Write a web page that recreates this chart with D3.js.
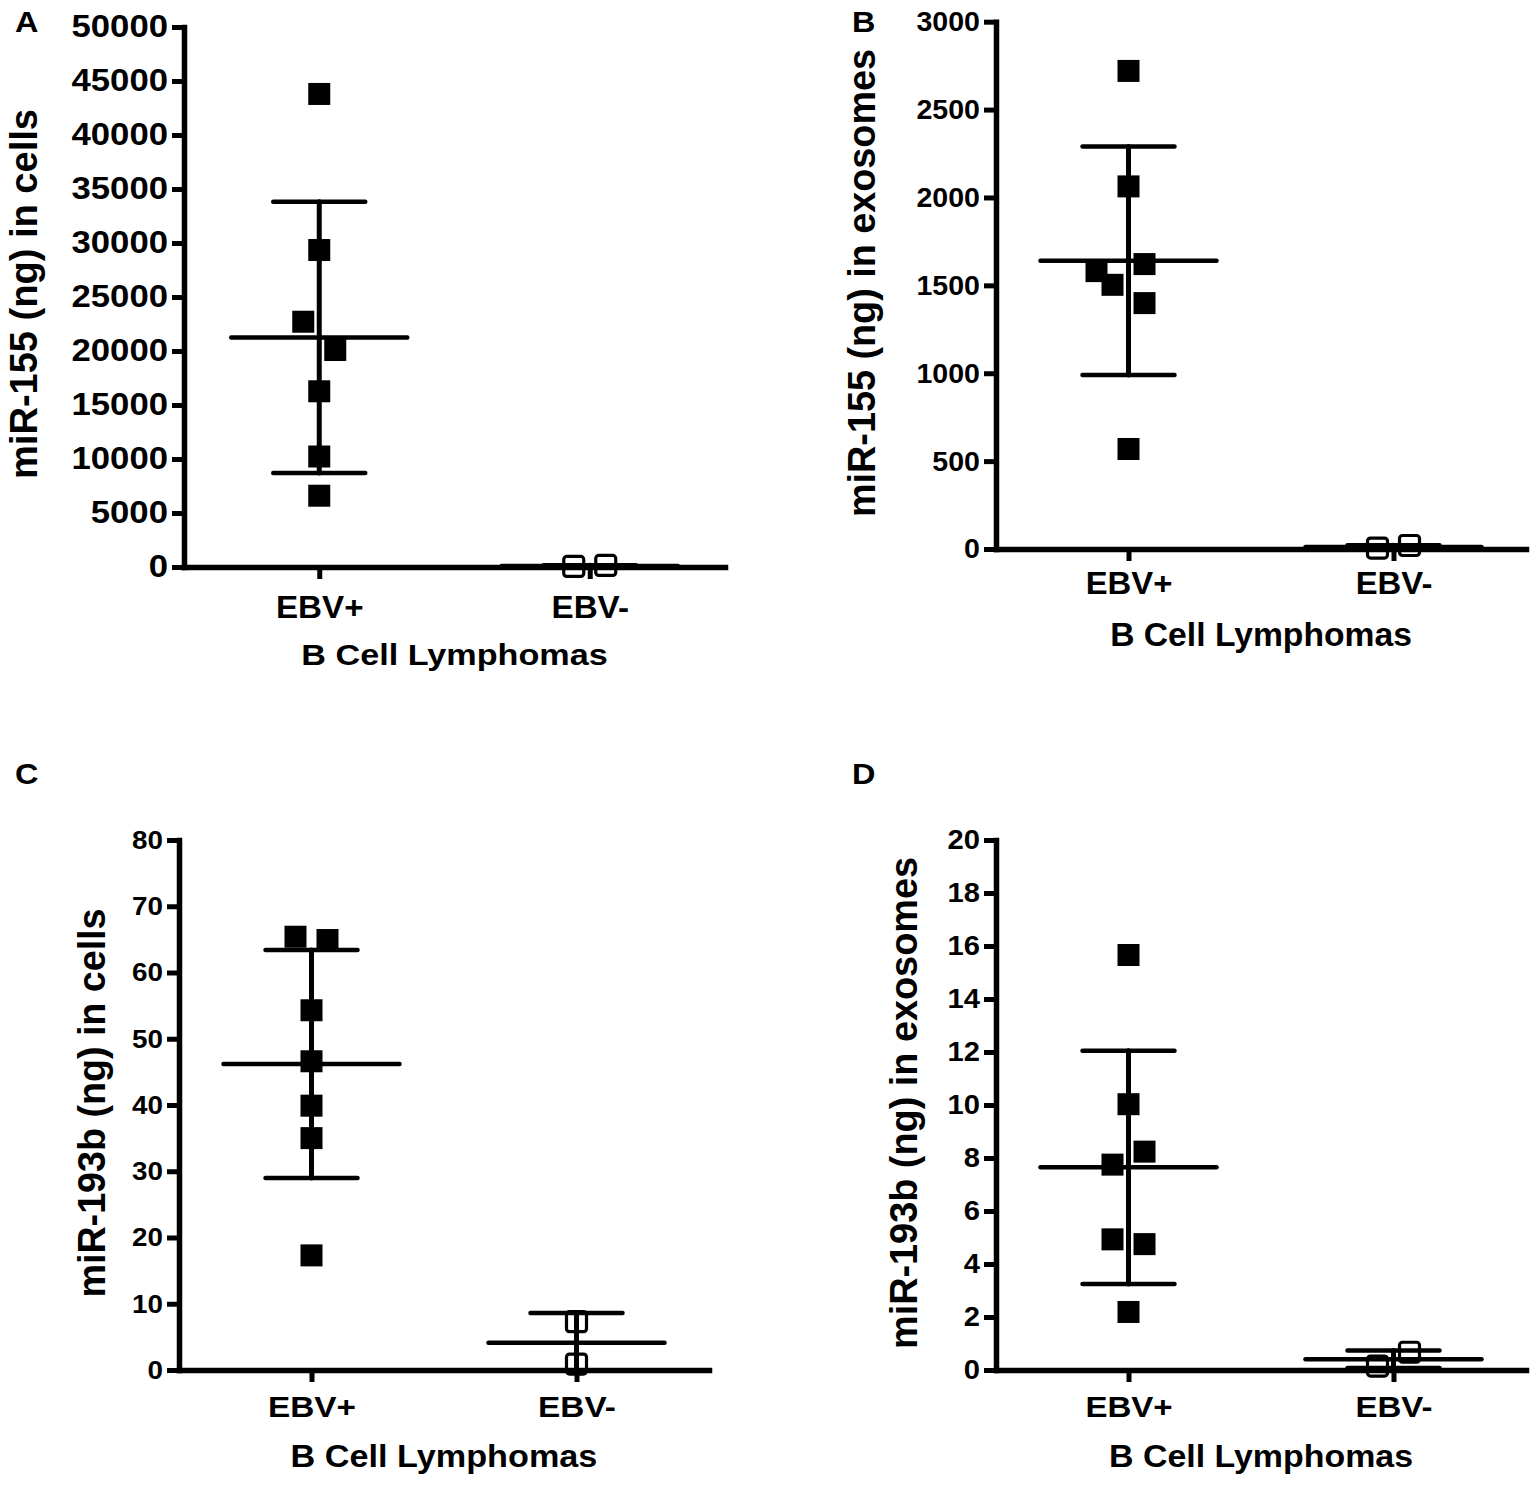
<!DOCTYPE html>
<html><head><meta charset="utf-8">
<script src="https://cdn.jsdelivr.net/npm/d3@7"></script>
<style>html,body{margin:0;padding:0;background:#fff;} svg{display:block;}</style>
</head><body>
<svg id="chart" width="1535" height="1485"></svg>
<script>
// ---------------- DATA ----------------
const categories = ["EBV+", "EBV-"];
const xAxisTitle = "B Cell Lymphomas";

// Panel A: miR-155 (ng) in cells
const cellsMir155EbvPos = [43800, 29350, 22710, 20090, 16270, 10230, 6600];
const cellsMir155EbvNeg = [50, 150];
const cellsMir155Mean = [21260, 100];
const cellsMir155Sd = [12560, 60];
const cellsMir155Ticks = [0, 5000, 10000, 15000, 20000, 25000, 30000, 35000, 40000, 45000, 50000];

// Panel B: miR-155 (ng) in exosomes
const exoMir155EbvPos = [2720, 2063, 1621, 1581, 1503, 1399, 569];
const exoMir155EbvNeg = [5, 20];
const exoMir155Mean = [1640, 12];
const exoMir155Sd = [650, 9];
const exoMir155Ticks = [0, 500, 1000, 1500, 2000, 2500, 3000];

// Panel C: miR-193b (ng) in cells
const cellsMir193bEbvPos = [65.4, 64.9, 54.3, 46.6, 39.9, 35.0, 17.3];
const cellsMir193bEbvNeg = [7.3, 0.9];
const cellsMir193bMean = [46.2, 4.1];
const cellsMir193bSd = [17.2, 4.5];
const cellsMir193bTicks = [0, 10, 20, 30, 40, 50, 60, 70, 80];

// Panel D: miR-193b (ng) in exosomes
const exoMir193bEbvPos = [15.66, 10.03, 8.24, 7.75, 4.93, 4.75, 2.19];
const exoMir193bEbvNeg = [0.15, 0.67];
const exoMir193bMean = [7.65, 0.41];
const exoMir193bSd = [4.4, 0.33];
const exoMir193bTicks = [0, 2, 4, 6, 8, 10, 12, 14, 16, 18, 20];

// ---------------- LAYOUT (positions / styles) ----------------
const FONT = "'Liberation Sans', Arial, Helvetica, sans-serif";
const JIT = 16;
const jitterA = {pos: [0, 0, -1, 1, 0, 0, 0], neg: [-1, 1]};
const jitterB = {pos: [0, 0, 1, -2, -1, 1, 0], neg: [-1, 1]};
const jitterC = {pos: [-1, 1, 0, 0, 0, 0, 0], neg: [0, 0]};
const jitterD = {pos: [0, 0, 1, -1, -1, 1, 0], neg: [-1, 1]};

const panels = [
  {letter: "A", yTitle: "miR-155 (ng) in cells",
   pos: cellsMir155EbvPos, neg: cellsMir155EbvNeg, mean: cellsMir155Mean, sd: cellsMir155Sd, ticks: cellsMir155Ticks, jitter: jitterA,
   L: {x0: 184, xEnd: 725, yTop: 27, yBottom: 567,
       yTick: [31, 1.12], xTick: [31, 1.07, 51], xTitle: [30, 1.14, 98],
       yTitleX: 37, yTitleY: 294, yTitleLen: 370, letterX: 15, letterY: 32}},
  {letter: "B", yTitle: "miR-155 (ng) in exosomes",
   pos: exoMir155EbvPos, neg: exoMir155EbvNeg, mean: exoMir155Mean, sd: exoMir155Sd, ticks: exoMir155Ticks, jitter: jitterB,
   L: {x0: 996, xEnd: 1526, yTop: 21.7, yBottom: 549,
       yTick: [28, 1.02], xTick: [31, 1.06, 45], xTitle: [34, 0.99, 97],
       yTitleX: 875, yTitleY: 283, yTitleLen: 468, letterX: 852, letterY: 32}},
  {letter: "C", yTitle: "miR-193b (ng) in cells",
   pos: cellsMir193bEbvPos, neg: cellsMir193bEbvNeg, mean: cellsMir193bMean, sd: cellsMir193bSd, ticks: cellsMir193bTicks, jitter: jitterC,
   L: {x0: 179, xEnd: 709, yTop: 840, yBottom: 1370,
       yTick: [26, 1.07], xTick: [29, 1.15, 47], xTitle: [32, 1.07, 97],
       yTitleX: 105, yTitleY: 1103, yTitleLen: 389, letterX: 15, letterY: 784}},
  {letter: "D", yTitle: "miR-193b (ng) in exosomes",
   pos: exoMir193bEbvPos, neg: exoMir193bEbvNeg, mean: exoMir193bMean, sd: exoMir193bSd, ticks: exoMir193bTicks, jitter: jitterD,
   L: {x0: 996, xEnd: 1526, yTop: 840, yBottom: 1370,
       yTick: [27, 1.08], xTick: [29, 1.14, 47], xTitle: [32, 1.06, 97],
       yTitleX: 917, yTitleY: 1103, yTitleLen: 492, letterX: 852, letterY: 784}}
];

const svg = d3.select("#chart");
svg.append("rect").attr("width", 1535).attr("height", 1485).attr("fill", "#fff");

panels.forEach(p => {
  const L = p.L;
  const g = svg.append("g");
  const x = d3.scalePoint().domain(categories).range([L.x0, L.xEnd]).padding(0.5);
  const y = d3.scaleLinear().domain([0, d3.max(p.ticks)]).range([L.yBottom, L.yTop]);

  // Y axis
  const ya = g.append("g").attr("transform", `translate(${L.x0},0)`)
    .call(d3.axisLeft(y).tickValues(p.ticks).tickSize(12).tickSizeOuter(0).tickPadding(4).tickFormat(d3.format("d")));
  ya.select(".domain").attr("stroke-width", 5.5).attr("stroke-linecap", "square");
  ya.selectAll(".tick line").attr("stroke-width", 5);
  ya.attr("font-family", FONT).attr("font-weight", "bold").attr("font-size", L.yTick[0]);
  ya.selectAll(".tick text").each(function() {
    const t = d3.select(this);
    const xx = +t.attr("x");
    t.attr("x", 0).attr("transform", `translate(${xx},0) scale(${L.yTick[1]},1)`).attr("fill", "#000");
  });

  // X axis
  const xa = g.append("g").attr("transform", `translate(0,${L.yBottom})`)
    .call(d3.axisBottom(x).tickSize(12).tickSizeOuter(0).tickPadding(4));
  xa.select(".domain").attr("stroke-width", 5.5).attr("stroke-linecap", "square");
  xa.selectAll(".tick line").attr("stroke-width", 5);
  xa.attr("font-family", FONT).attr("font-weight", "bold").attr("font-size", L.xTick[0]);
  xa.selectAll(".tick text").attr("y", L.xTick[2]).attr("dy", 0)
    .attr("transform", `scale(${L.xTick[1]},1)`).attr("fill", "#000");

  // X title
  const xc = (L.x0 + L.xEnd) / 2;
  g.append("text").text(xAxisTitle)
    .attr("transform", `translate(${xc},${L.yBottom + L.xTitle[2]}) scale(${L.xTitle[1]},1)`)
    .attr("text-anchor", "middle").attr("font-family", FONT).attr("font-weight", "bold")
    .attr("font-size", L.xTitle[0]).attr("fill", "#000");

  // Y title
  g.append("text").text(p.yTitle)
    .attr("transform", `translate(${L.yTitleX},${L.yTitleY}) rotate(-90)`)
    .attr("text-anchor", "middle").attr("font-family", FONT).attr("font-weight", "bold")
    .attr("font-size", 38).attr("textLength", L.yTitleLen).attr("lengthAdjust", "spacingAndGlyphs")
    .attr("fill", "#000");

  // Panel letter
  g.append("text").text(p.letter)
    .attr("transform", `translate(${L.letterX},${L.letterY}) scale(1.08,1)`)
    .attr("font-family", FONT).attr("font-weight", "bold").attr("font-size", 30).attr("fill", "#000");

  // Mean and SD error bars
  categories.forEach((c, i) => {
    const cx = x(c);
    const m = p.mean[i], s = p.sd[i];
    const lo = Math.max(0, m - s), hi = m + s;
    const lines = g.append("g").attr("stroke", "#000").attr("stroke-width", 5).attr("stroke-linecap", "round");
    lines.append("line").attr("x1", cx).attr("x2", cx).attr("y1", y(lo)).attr("y2", y(hi));
    lines.append("line").attr("x1", cx - 88).attr("x2", cx + 88).attr("y1", y(m)).attr("y2", y(m)).attr("stroke-width", 4.5);
    lines.append("line").attr("x1", cx - 46).attr("x2", cx + 46).attr("y1", y(hi)).attr("y2", y(hi)).attr("stroke-width", 4.5);
    if (m - s > 0) {
      lines.append("line").attr("x1", cx - 46).attr("x2", cx + 46).attr("y1", y(m - s)).attr("y2", y(m - s)).attr("stroke-width", 4.5);
    }
  });

  // Points: EBV+ filled squares
  const S = 22;
  g.append("g").selectAll("rect").data(p.pos).join("rect")
    .attr("x", (d, i) => x(categories[0]) + p.jitter.pos[i] * JIT - S / 2)
    .attr("y", d => y(d) - S / 2)
    .attr("width", S).attr("height", S).attr("fill", "#000");

  // EBV- open squares
  const So = 20;
  g.append("g").selectAll("rect").data(p.neg).join("rect")
    .attr("x", (d, i) => x(categories[1]) + p.jitter.neg[i] * JIT - So / 2)
    .attr("y", d => y(d) - So / 2)
    .attr("width", So).attr("height", So).attr("rx", 3)
    .attr("fill", "none").attr("stroke", "#000").attr("stroke-width", 3.2);
});
</script>
</body></html>
